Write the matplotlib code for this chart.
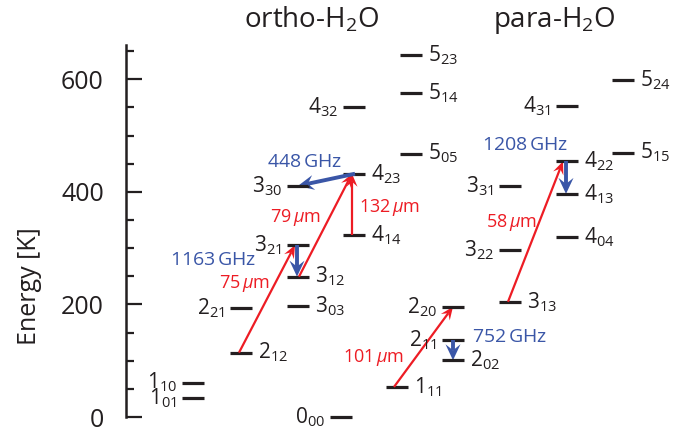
import numpy as np
import matplotlib
matplotlib.use('Agg')
import matplotlib.pyplot as plt
from matplotlib.patches import Polygon

plt.rcParams['font.family'] = ['Open Sans', 'DejaVu Sans']
plt.rcParams['mathtext.fontset'] = 'custom'
plt.rcParams['mathtext.rm'] = 'Open Sans'
plt.rcParams['mathtext.it'] = 'Open Sans:italic'
plt.rcParams['mathtext.default'] = 'regular'

# energy levels (K), x of level bar (left end), label side
ortho_names = ['1_{01}', '1_{10}', '2_{12}', '2_{21}', '3_{03}', '3_{12}', '3_{21}', '4_{14}',
               '3_{30}', '4_{23}', '5_{05}', '4_{32}', '5_{14}', '5_{23}']
ortho_E = [34.2, 61.0, 114.4, 194.1, 196.8, 249.4, 305.3, 323.5, 410.7, 432.2, 468.1, 550.4, 574.8, 642.7]
ortho_x = [182, 182, 230, 230, 287, 287, 287, 343, 287, 343, 400, 343, 400, 400]
ortho_side = ['L', 'L', 'R', 'L', 'R', 'R', 'L', 'R', 'L', 'R', 'R', 'L', 'R', 'R']

para_names = ['0_{00}', '1_{11}', '2_{02}', '2_{11}', '2_{20}', '3_{13}', '3_{22}', '4_{04}',
              '4_{13}', '3_{31}', '4_{22}', '5_{15}', '4_{31}', '5_{24}']
para_E = [0.0, 53.4, 100.8, 136.9, 195.9, 204.7, 296.8, 319.5, 396.4, 410.4, 454.3, 469.9, 552.3, 598.8]
para_x = [330, 386, 442, 442, 442, 499, 499, 556, 556, 499, 556, 612, 556, 612]
para_side = ['L', 'R', 'R', 'L', 'L', 'R', 'L', 'R', 'R', 'L', 'R', 'R', 'L', 'R']

# transitions: (x0, E0, x1, E1)
red_arrows = [(239, 114.4, 295, 305.3), (299, 249.4, 352, 432.2), (352, 323.5, 352, 432.2),
              (394, 53.4, 453, 195.9), (508, 204.7, 563, 454.3)]
red_labels = ['75$\\,\\mathit{\\mu}$m', '79$\\,\\mathit{\\mu}$m', '132$\\,\\mathit{\\mu}$m',
              '101$\\,\\mathit{\\mu}$m', '58$\\,\\mathit{\\mu}$m']
red_label_pos = [(244, 238), (295, 355), (390, 373), (374, 105), (511, 346)]

blue_arrows = [(355, 432.2, 298, 410.7), (297, 305.3, 297, 249.4),
               (453, 136.9, 453, 100.8), (566, 454.3, 566, 396.4)]
blue_labels = ['448$\\,$GHz', '1163$\\,$GHz', '752$\\,$GHz', '1208$\\,$GHz']
blue_label_pos = [(305, 453), (213, 279), (510, 142), (525, 483)]

red = '#ED1C24'
blue = '#3A56A7'
dark = '#231F20'

PX_PER_K = 0.5628  # vertical pixels per kelvin

fig = plt.figure(figsize=(6.98, 4.34), dpi=100)
ax = fig.add_axes([0, 0, 1, 1])
ax.set_xlim(0, 698)
ax.set_ylim(-30.2, 740.9)

for s in ['top', 'right', 'bottom']:
    ax.spines[s].set_visible(False)
ax.spines['left'].set_position(('data', 126))
ax.spines['left'].set_bounds(0, 661)
ax.spines['left'].set_linewidth(1.8)
ax.spines['left'].set_color(dark)
ax.set_xticks([])
ax.set_yticks([0, 200, 400, 600])
ax.set_yticks(np.arange(50, 700, 50), minor=True)
ax.tick_params(axis='y', which='major', direction='in', length=11.5, width=1.6, pad=16,
               labelsize=18, color=dark, labelcolor=dark)
ax.tick_params(axis='y', which='minor', direction='in', length=5.8, width=1.6, color=dark)
ax.text(30, 232, 'Energy [K]', rotation=90, ha='center', va='center', fontsize=18, color=dark)

def draw_levels(names, E, xs, sides):
    for n, e, x, s in zip(names, E, xs, sides):
        ax.plot([x, x + 22], [e, e], color=dark, lw=2.3, solid_capstyle='butt')
        if s == 'R':
            ax.text(x + 28, e, '$' + n + '$', ha='left', va='center', fontsize=15, color=dark)
        else:
            ax.text(x - 5, e, '$' + n + '$', ha='right', va='center', fontsize=15, color=dark)

draw_levels(ortho_names, ortho_E, ortho_x, ortho_side)
draw_levels(para_names, para_E, para_x, para_side)

def arrow(x0, e0, x1, e1, color, lw, hl, hw, notch):
    # work in pixel space, convert back to data
    p0 = np.array([x0, e0 * PX_PER_K])
    p1 = np.array([x1, e1 * PX_PER_K])
    d = p1 - p0
    d = d / np.hypot(*d)
    n = np.array([-d[1], d[0]])
    base = p1 - d * hl
    pts = [p1, base + n * hw / 2, p1 - d * (hl - notch), base - n * hw / 2]
    pts = [(p[0], p[1] / PX_PER_K) for p in pts]
    end = p1 - d * (hl - notch)
    ax.plot([x0, end[0]], [e0, end[1] / PX_PER_K], color=color, lw=lw, solid_capstyle='butt')
    ax.add_patch(Polygon(pts, closed=True, facecolor=color, edgecolor='none'))

for (x0, e0, x1, e1) in red_arrows:
    arrow(x0, e0, x1, e1, red, 1.6, 13, 11, 5)
for (x0, e0, x1, e1) in blue_arrows:
    arrow(x0, e0, x1, e1, blue, 2.8, 16, 15, 6)

for t, (x, e) in zip(red_labels, red_label_pos):
    ax.text(x, e, t, ha='center', va='center', fontsize=13, color=red)
for t, (x, e) in zip(blue_labels, blue_label_pos):
    ax.text(x, e, t, ha='center', va='center', fontsize=14, color=blue)

ax.text(312, 705, 'ortho-H$_2$O', ha='center', va='center', fontsize=20, color=dark)
ax.text(554, 705, 'para-H$_2$O', ha='center', va='center', fontsize=20, color=dark)

fig.savefig('out.png', dpi=100)
